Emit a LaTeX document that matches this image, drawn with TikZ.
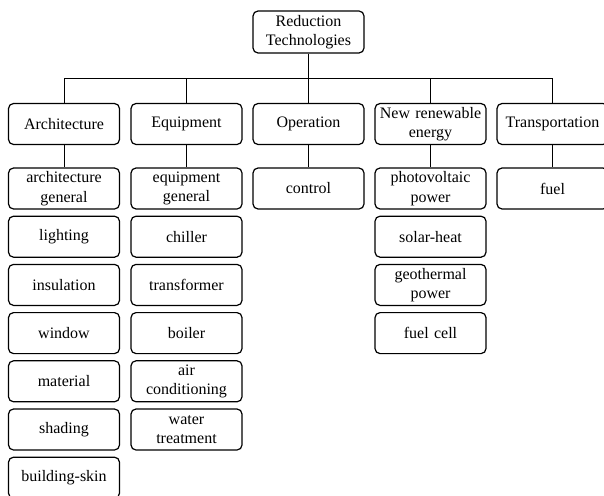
\documentclass[tikz,border=0pt]{standalone}
\usepackage{fontspec}
\setmainfont{Liberation Serif}
\begin{document}
\begin{tikzpicture}[x=1pt,y=-1pt,
  box/.style={draw, rounded corners=5pt, line width=1.2pt, minimum width=111pt, minimum height=41pt,
    text width=108pt, align=center, inner sep=0pt, font=\fontsize{16}{19.5}\selectfont},
  conn/.style={line width=1pt}]
\useasboundingbox (0,0) rectangle (604,495);
\clip (0,0) rectangle (604,495);
% root
\node[box, minimum height=42pt] (root) at (308.5,32) {Reduction\\Technologies};
\coordinate (bus) at (308.5,78);
% level 1
\node[box] (arch) at (64,124) {Architecture};
\node[box] (equip) at (186.5,124) {Equipment};
\node[box] (oper) at (308.5,124) {Operation};
\node[box] (nre) at (430.5,124) {New renewable\\energy};
\node[box] (trans) at (552.5,124) {Transportation};
\draw[conn] (root.south) -- (bus);
\draw[conn] (arch.north |- bus) -- (trans.north |- bus);
\foreach \n in {arch,equip,oper,nre,trans}
  \draw[conn] (\n.north) -- (\n.north |- bus);
% Architecture column
\node[box] (a1) at (64,188.5) {architecture\\general};
\node[box] (a2) at (64,236.7) {lighting};
\node[box] (a3) at (64,284.9) {insulation};
\node[box] (a4) at (64,333.1) {window};
\node[box] (a5) at (64,381.3) {material};
\node[box] (a6) at (64,429.5) {shading};
\node[box] (a7) at (64,477.7) {building-skin};
% Equipment column
\node[box] (e1) at (186.5,188.5) {equipment\\general};
\node[box] (e2) at (186.5,236.7) {chiller};
\node[box] (e3) at (186.5,284.9) {transformer};
\node[box] (e4) at (186.5,333.1) {boiler};
\node[box] (e5) at (186.5,381.3) {air\\conditioning};
\node[box] (e6) at (186.5,429.5) {water\\treatment};
% Operation column
\node[box] (o1) at (308.5,188.5) {control};
% New renewable column
\node[box] (n1) at (430.5,188.5) {photovoltaic\\power};
\node[box] (n2) at (430.5,236.7) {solar-heat};
\node[box] (n3) at (430.5,284.9) {geothermal\\power};
\node[box] (n4) at (430.5,333.1) {fuel cell};
% Transportation column
\node[box] (t1) at (552.5,188.5) {fuel};
% connectors
\draw[conn] (arch) -- (a1);
\draw[conn] (equip) -- (e1);
\draw[conn] (oper) -- (o1);
\draw[conn] (nre) -- (n1);
\draw[conn] (trans) -- (t1);
\end{tikzpicture}
\end{document}
